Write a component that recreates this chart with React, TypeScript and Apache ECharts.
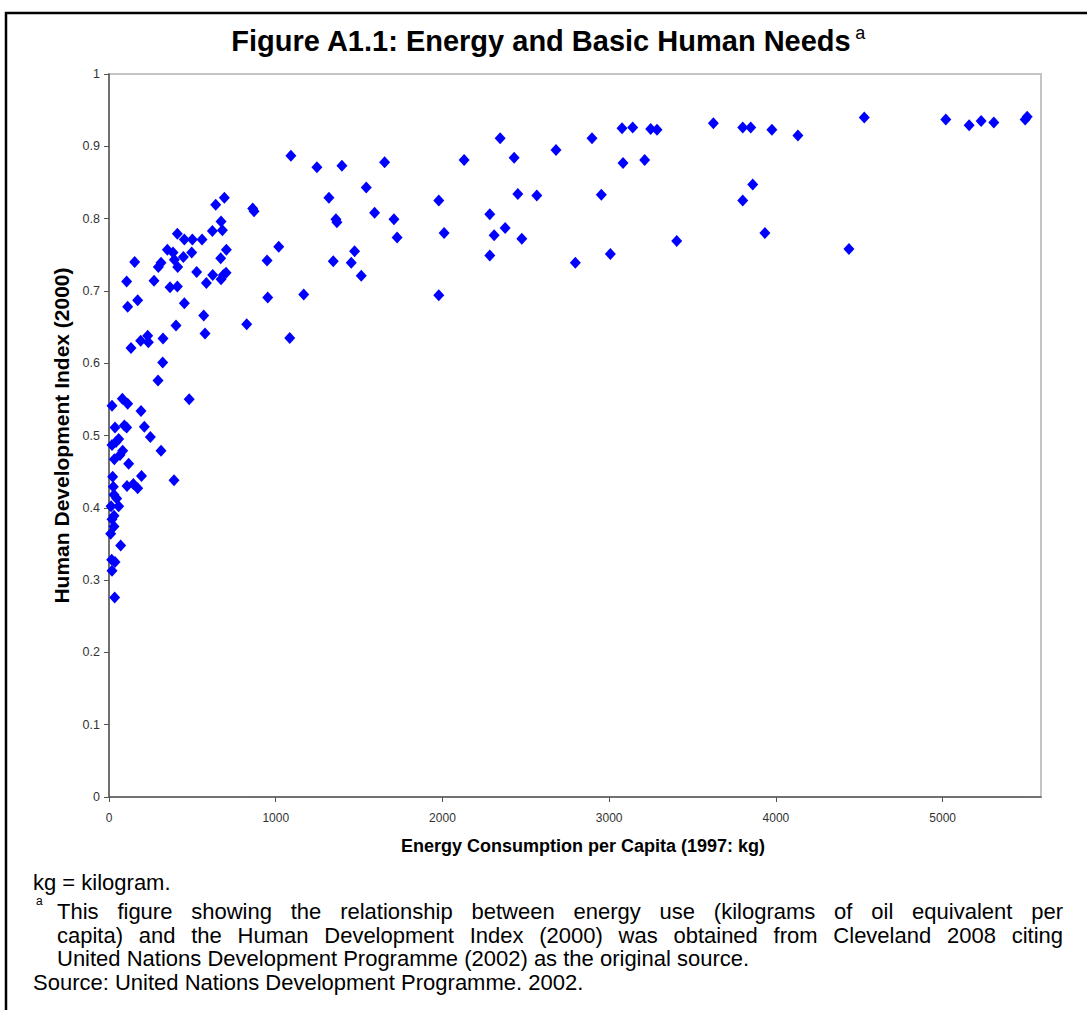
import React, { useEffect, useRef } from "react";
import * as echarts from "echarts";

const titleText = "Figure A1.1: Energy and Basic Human Needs";
const titleSup = "a";
const xAxisTitle = "Energy Consumption per Capita (1997: kg)";
const yAxisTitle = "Human Development Index (2000)";
const xTicks = [0, 1000, 2000, 3000, 4000, 5000];

// Countries with low energy use (< 500 kg)
const energyLow = [18, 80, 112, 192, 322, 294, 481, 36, 92, 106, 212, 248, 58, 42, 18, 82, 312, 66, 32, 118, 22, 195, 390, 108, 146, 172, 26, 30, 46, 58, 12, 30, 18, 30, 10, 70, 16, 36, 18, 34];
const hdiLow = [0.541, 0.551, 0.544, 0.534, 0.601, 0.576, 0.55, 0.511, 0.514, 0.511, 0.512, 0.498, 0.495, 0.491, 0.487, 0.479, 0.479, 0.473, 0.467, 0.461, 0.443, 0.444, 0.438, 0.43, 0.433, 0.427, 0.429, 0.418, 0.413, 0.402, 0.402, 0.389, 0.384, 0.374, 0.364, 0.348, 0.328, 0.325, 0.313, 0.276];

// Middle group
const energyMid = [106, 112, 172, 154, 132, 190, 232, 236, 270, 296, 312, 324, 350, 366, 410, 384, 392, 412, 410, 402, 452, 446, 452, 500, 496, 526, 558, 568, 576, 584, 622, 620, 640, 692, 672, 680, 670, 704, 672, 686, 702, 862, 870, 948, 1018, 952, 826, 1168, 1084, 1247, 1319, 1361, 1367, 1345, 1091];
const hdiMid = [0.713, 0.678, 0.687, 0.74, 0.621, 0.631, 0.638, 0.629, 0.714, 0.733, 0.739, 0.634, 0.757, 0.705, 0.706, 0.753, 0.743, 0.733, 0.779, 0.652, 0.771, 0.747, 0.683, 0.771, 0.753, 0.726, 0.771, 0.666, 0.641, 0.711, 0.722, 0.783, 0.819, 0.829, 0.796, 0.784, 0.745, 0.757, 0.716, 0.722, 0.725, 0.814, 0.81, 0.742, 0.761, 0.691, 0.654, 0.695, 0.635, 0.871, 0.829, 0.799, 0.795, 0.741, 0.887];

// High energy use
const energyHigh = [1397, 1653, 1543, 1593, 1709, 1728, 1978, 2010, 2130, 2346, 2430, 2452, 2566, 2284, 2310, 2376, 2476, 2284, 1473, 1453, 1513, 1978, 2681, 2897, 3077, 3141, 3249, 3287, 3625, 3801, 3849, 3976, 3083, 3213, 2953, 3861, 3801, 2797, 3007, 3405, 3934, 4132, 4530, 5019, 5159, 5231, 5307, 5495, 5507, 4438];
const hdiHigh = [0.873, 0.878, 0.843, 0.808, 0.799, 0.774, 0.825, 0.78, 0.881, 0.911, 0.884, 0.834, 0.832, 0.806, 0.777, 0.787, 0.772, 0.749, 0.755, 0.739, 0.721, 0.694, 0.895, 0.911, 0.925, 0.926, 0.924, 0.923, 0.932, 0.926, 0.926, 0.923, 0.877, 0.881, 0.833, 0.847, 0.825, 0.739, 0.751, 0.769, 0.78, 0.915, 0.94, 0.937, 0.929, 0.935, 0.933, 0.937, 0.941, 0.758];

const noteKg = "kg = kilogram.";
const noteMark = "a";
const noteLines = [
  "This figure showing the relationship between energy use (kilograms of oil equivalent per",
  "capita) and the Human Development Index (2000) was obtained from Cleveland 2008 citing",
  "United Nations Development Programme (2002) as the original source.",
];
const noteSource = "Source: United Nations Development Programme. 2002.";

const FONT = '"Liberation Sans", Arial, Helvetica, sans-serif';

function measure(text: string, font: string): number {
  const c = document.createElement("canvas").getContext("2d");
  if (!c) return text.length * 10;
  c.font = font;
  return c.measureText(text).width;
}

function textEl(text: string, x: number, y: number, size: number, extra: any = {}) {
  return {
    type: "text",
    x,
    y,
    silent: true,
    style: {
      text,
      fill: "#000",
      font: `${extra.weight || "normal"} ${size}px ${FONT}`,
      align: extra.align || "left",
      textAlign: extra.align || "left",
      verticalAlign: "middle",
      textVerticalAlign: "middle",
    },
  };
}

function justified(line: string, x0: number, x1: number, y: number, size: number) {
  const font = `normal ${size}px ${FONT}`;
  const words = line.split(" ");
  const widths = words.map((w) => measure(w, font));
  const total = widths.reduce((a, b) => a + b, 0);
  const gap = (x1 - x0 - total) / (words.length - 1);
  const els: any[] = [];
  let x = x0;
  words.forEach((w, i) => {
    els.push(textEl(w, x, y, size));
    x += widths[i] + gap;
  });
  return els;
}

const zip = (xs: number[], ys: number[]) => xs.map((x, i) => [x, ys[i]]);

export default function App() {
  const ref = useRef<HTMLDivElement>(null);
  useEffect(() => {
    if (!ref.current) return;
    const chart = echarts.init(ref.current, null, { renderer: "svg" });

    const titleSize = 29;
    const titleFont = `bold ${titleSize}px ${FONT}`;
    const tW = measure(titleText, titleFont);
    const tCenter = 541;
    const noteSize = 22;

    const graphics: any[] = [
      { type: "line", silent: true, shape: { x1: 5, y1: 13, x2: 1087, y2: 13 }, style: { stroke: "#000", lineWidth: 2.5 } },
      { type: "line", silent: true, shape: { x1: 6, y1: 12, x2: 6, y2: 1010 }, style: { stroke: "#000", lineWidth: 2.5 } },
      textEl(titleText, tCenter, 41, titleSize, { weight: "bold", align: "center" }),
      textEl(titleSup, tCenter + tW / 2 + 4, 33, 18),
      textEl(noteKg, 33, 882, noteSize),
      textEl(noteMark, 36, 901, 12),
      ...justified(noteLines[0], 57, 1063, 911, noteSize),
      ...justified(noteLines[1], 57, 1063, 935, noteSize),
      textEl(noteLines[2], 57, 958, noteSize),
      textEl(noteSource, 33, 982, noteSize),
    ];

    const marker = {
      symbol: "diamond",
      symbolSize: [11, 12],
      itemStyle: { color: "#0000FF", opacity: 1 },
    };

    chart.setOption({
      animation: false,
      backgroundColor: "#fff",
      grid: {
        left: 109,
        right: 46,
        top: 74,
        bottom: 213,
        show: true,
        borderColor: "#c4c4c4",
        borderWidth: 2,
        backgroundColor: "transparent",
      },
      xAxis: {
        type: "value",
        min: 0,
        max: 5590,
        interval: 1000,
        name: xAxisTitle,
        nameLocation: "middle",
        nameGap: 40,
        nameTextStyle: { fontFamily: FONT, fontWeight: "bold", fontSize: 18, color: "#000", padding: [0, 0, 0, 16] },
        axisLine: { show: true, onZero: false, lineStyle: { color: "#555", width: 1.5 } },
        axisTick: { show: true, length: 5, customValues: xTicks, lineStyle: { color: "#555" } },
        axisLabel: {
          customValues: xTicks,
          margin: 15,
          fontFamily: FONT,
          fontSize: 12,
          color: "#333",
          formatter: (v: number) => String(v),
        },
        splitLine: { show: false },
      },
      yAxis: {
        type: "value",
        min: 0,
        max: 1,
        interval: 0.1,
        name: yAxisTitle,
        nameLocation: "middle",
        nameGap: 37,
        nameTextStyle: { fontFamily: FONT, fontWeight: "bold", fontSize: 21, color: "#000" },
        axisLine: { show: true, onZero: false, lineStyle: { color: "#555", width: 1.5 } },
        axisTick: { show: true, length: 5, lineStyle: { color: "#555" } },
        axisLabel: { margin: 9, fontFamily: FONT, fontSize: 12.5, color: "#333" },
        splitLine: { show: false },
      },
      series: [
        { type: "scatter", data: zip(energyLow, hdiLow), ...marker },
        { type: "scatter", data: zip(energyMid, hdiMid), ...marker },
        { type: "scatter", data: zip(energyHigh, hdiHigh), ...marker },
      ],
      graphic: graphics,
    });
    return () => chart.dispose();
  }, []);
  return <div ref={ref} style={{ position: "fixed", left: 0, top: 0, width: 1087, height: 1010, background: "#fff" }} />;
}
